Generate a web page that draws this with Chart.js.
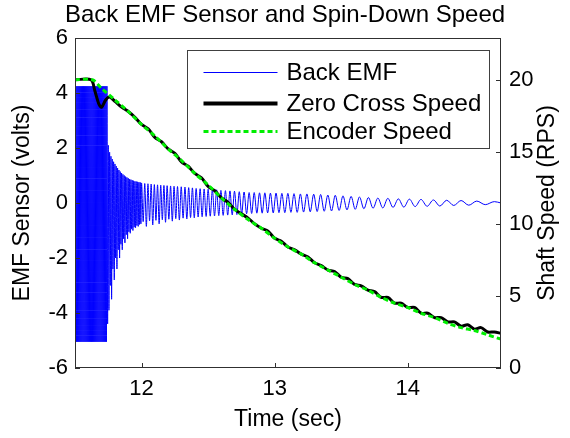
<!DOCTYPE html>
<html><head><meta charset="utf-8">
<script src="https://cdn.jsdelivr.net/npm/chart.js@4"></script>
<style>html,body{margin:0;padding:0;background:#fff;overflow:hidden}canvas{display:block}</style>
</head><body>
<canvas id="c" width="570" height="438"></canvas>
<script>
const titleText = 'Back EMF Sensor and Spin-Down Speed';
const xTitle = 'Time (sec)';
const yLeftTitle = 'EMF Sensor (volts)';
const yRightTitle = 'Shaft Speed (RPS)';
const seriesNames = ['Back EMF', 'Zero Cross Speed', 'Encoder Speed'];
const xTicks = [12, 13, 14];
const yLeftTicks = [-6, -4, -2, 0, 2, 4, 6];
const yRightTicks = [0, 5, 10, 15, 20];

// Back EMF sensor trace (volts)
const emfTime = [
 11.500,11.504,11.508,11.512,11.516,11.520,11.524,11.528,11.532,11.536,
 11.540,11.544,11.548,11.552,11.556,11.560,11.564,11.568,11.572,11.576,
 11.580,11.584,11.588,11.592,11.596,11.600,11.604,11.608,11.612,11.616,
 11.620,11.624,11.628,11.632,11.636,11.640,11.644,11.648,11.652,11.656,
 11.660,11.664,11.668,11.672,11.676,11.680,11.684,11.688,11.692,11.696,
 11.700,11.704,11.708,11.712,11.716,11.720,11.724,11.728,11.732,11.736,
 11.740,
 11.745,11.750,11.755,11.760,11.765,11.770,11.775,11.780,11.785,11.790,
 11.795,11.800,11.805,11.810,11.815,11.820,11.825,11.830,11.835,11.840,
 11.845,11.850,11.855,11.860,11.865,11.870,11.875,11.880,11.885,11.890,
 11.895,11.900,11.905,11.910,11.915,11.920,11.925,11.930,11.935,11.940,
 11.945,11.950,11.955,11.960,11.965,11.970,11.975,11.980,11.985,11.990,
 11.995,
 12.000,12.012,12.024,12.036,12.048,12.060,12.072,12.084,12.096,12.108,
 12.120,12.132,12.144,12.156,12.168,12.180,12.192,12.205,12.218,12.231,
 12.244,12.257,12.270,12.284,12.298,12.312,12.326,12.340,12.354,12.368,
 12.382,12.396,12.410,12.425,12.440,12.455,12.470,12.485,12.500,12.516,
 12.532,12.548,12.564,12.580,12.596,12.613,12.630,12.647,12.664,12.681,
 12.698,12.716,12.734,12.752,12.770,12.789,12.808,12.827,12.846,12.866,
 12.886,12.906,12.926,12.947,12.968,12.989,13.010,13.032,13.054,13.076,
 13.099,13.122,13.145,13.169,13.193,13.217,13.242,13.267,13.293,13.319,
 13.345,13.372,13.399,13.427,13.455,13.484,13.513,13.543,13.574,13.605,
 13.637,13.670,13.704,13.739,13.775,13.812,13.850,13.889,13.929,13.970,
 14.012,14.055,14.099,14.145,14.192,14.241,14.292,14.345,14.400,14.458,
 14.518,14.582,14.650,14.700
];
const emfVolts = [
 4.25,-5.05,4.25,-5.05,4.25,-5.05,4.25,-5.05,4.25,-5.05,
 4.25,-5.05,4.25,-5.05,4.25,-5.05,4.25,-5.05,4.25,-5.05,
 4.25,-5.05,4.25,-5.05,4.25,-5.05,4.25,-5.05,4.25,-5.05,
 4.25,-5.05,4.25,-5.05,4.25,-5.05,4.25,-5.05,4.25,-5.05,
 4.25,-5.05,4.25,-5.05,4.25,-5.05,4.25,-5.05,4.25,-5.05,
 4.25,-5.05,4.25,-5.05,4.25,-5.05,4.25,-5.05,4.25,-5.05,
 4.25,
 -4.4,2.1,-3.9,1.85,-3.0,1.7,-3.5,1.6,-2.4,1.5,
 -2.8,1.42,-2.0,1.34,-2.4,1.27,-1.7,1.2,-2.0,1.14,
 -1.5,1.09,-1.7,1.04,-1.3,1.0,-1.45,0.96,-1.15,0.93,
 -1.3,0.9,-1.05,0.87,-1.1,0.85,-0.95,0.83,-1.0,0.81,
 -0.88,0.79,-0.9,0.78,-0.82,0.77,-0.85,0.76,-0.78,0.75,
 -0.76,
 0.73,-0.68,0.71,-0.85,0.70,-0.65,0.69,-0.80,0.67,-0.63,
 0.66,-0.76,0.65,-0.61,0.64,-0.70,0.63,-0.59,0.62,-0.66,
 0.61,-0.57,0.60,-0.62,0.59,-0.55,0.58,-0.58,0.56,-0.53,
 0.55,-0.54,0.53,-0.51,0.52,-0.50,0.51,-0.49,0.50,-0.48,
 0.49,-0.47,0.48,-0.46,0.46,-0.45,0.45,-0.44,0.44,-0.43,
 0.43,-0.42,0.41,-0.40,0.40,-0.39,0.38,-0.38,0.38,-0.37,
 0.37,-0.37,0.37,-0.36,0.36,-0.36,0.36,-0.35,0.35,-0.35,
 0.35,-0.34,0.34,-0.34,0.33,-0.33,0.33,-0.32,0.32,-0.31,
 0.31,-0.30,0.29,-0.29,0.28,-0.27,0.26,-0.25,0.24,-0.23,
 0.22,-0.21,0.20,-0.19,0.18,-0.18,0.17,-0.16,0.15,-0.15,
 0.14,-0.13,0.13,-0.12,0.11,-0.11,0.10,-0.09,0.09,-0.08,
 0.07,-0.06,0.05,0.00
];

// Zero-cross derived speed (RPS)
const zcTime = [
 11.50,11.62,11.65,11.68,11.70,11.73,11.76,11.80,11.85,11.90,11.95,
 12.00,12.05,12.10,12.15,12.20,12.25,12.30,12.35,12.40,12.45,
 12.50,12.55,12.60,12.65,12.70,12.75,12.80,12.85,12.90,12.95,
 13.00,13.05,13.10,13.15,13.20,13.25,13.30,13.35,13.40,13.45,
 13.50,13.55,13.60,13.65,13.70,13.75,13.80,13.85,13.90,13.95,
 14.00,14.05,14.10,14.15,14.20,14.25,14.30,14.35,14.40,14.45,
 14.50,14.55,14.60,14.65,14.70
];
const zcSpeed = [
 20.0,20.0,19.2,18.3,18.1,18.6,18.8,18.5,18.1,17.8,17.4,
 16.9,16.6,16.0,15.7,15.2,14.9,14.3,14.0,13.5,13.2,
 12.6,12.3,11.8,11.5,11.0,10.7,10.4,10.0,9.7,9.5,
 9.0,8.8,8.4,8.2,7.9,7.7,7.3,7.1,6.8,6.7,
 6.3,6.2,5.8,5.7,5.4,5.3,4.9,4.9,4.5,4.5,
 4.2,4.2,3.8,3.8,3.5,3.5,3.2,3.2,2.9,3.0,
 2.7,2.8,2.5,2.5,2.4
];

// Encoder speed (RPS)
const encTime = [
 11.50,11.63,11.70,11.80,11.90,12.00,12.10,12.20,12.30,12.40,
 12.50,12.60,12.70,12.80,12.90,13.00,13.10,13.20,13.30,13.40,
 13.50,13.60,13.70,13.80,13.90,14.00,14.10,14.20,14.30,14.40,
 14.50,14.60,14.70
];
const encSpeed = [
 20.0,20.0,19.4,18.6,17.8,16.9,16.1,15.2,14.4,13.5,
 12.7,11.8,11.0,10.3,9.7,9.0,8.4,7.9,7.3,6.8,
 6.3,5.8,5.4,4.9,4.5,4.2,3.8,3.5,3.1,2.8,
 2.6,2.3,2.0
];

const FONT = "'Liberation Sans', Arial, Helvetica, sans-serif";
const BLUE = '#0000ff', BLACK = '#000000', GREEN = 'rgb(0,238,0)';
const AXIS = '#303030';

const pts = (t, v) => t.map((x, i) => ({x: x, y: v[i]}));

const overlay = {
  id: 'overlay',
  afterDraw(chart) {
    const ctx = chart.ctx, ca = chart.chartArea;
    const sx = chart.scales.x, sy = chart.scales.y, sy1 = chart.scales.y1;
    ctx.save();
    ctx.strokeStyle = AXIS; ctx.lineWidth = 1;
    ctx.strokeRect(Math.round(ca.left) + 0.5, Math.round(ca.top) + 0.5,
      Math.round(ca.right - ca.left) - 1, Math.round(ca.bottom - ca.top) - 1);
    const TL = 5;
    ctx.beginPath();
    xTicks.forEach(v => {
      const px = Math.round(sx.getPixelForValue(v)) + 0.5;
      ctx.moveTo(px, ca.bottom); ctx.lineTo(px, ca.bottom - TL);
    });
    yLeftTicks.forEach(v => {
      const py = Math.round(sy.getPixelForValue(v)) + 0.5;
      ctx.moveTo(ca.left, py); ctx.lineTo(ca.left + TL, py);
    });
    yRightTicks.forEach(v => {
      const py = Math.round(sy1.getPixelForValue(v)) + 0.5;
      ctx.moveTo(ca.right, py); ctx.lineTo(ca.right - TL, py);
    });
    ctx.stroke();
    ctx.fillStyle = '#000';
    ctx.font = '23px ' + FONT;
    ctx.textAlign = 'center'; ctx.textBaseline = 'middle';
    ctx.translate(548, (ca.top + ca.bottom) / 2);
    ctx.rotate(-Math.PI / 2);
    ctx.fillText(yRightTitle, 0, 0);
    ctx.restore();

    ctx.save();
    const bx = Math.round(ca.left + 112) + 0.5, by = Math.round(ca.top + 12) + 0.5;
    const bw = 302, bh = 98;
    ctx.fillStyle = '#fff';
    ctx.fillRect(bx, by, bw, bh);
    ctx.strokeStyle = '#404040'; ctx.lineWidth = 1;
    ctx.strokeRect(bx, by, bw, bh);
    const styles = [
      {c: BLUE, w: 1, d: []},
      {c: BLACK, w: 4, d: []},
      {c: GREEN, w: 3, d: [5, 3]}
    ];
    const rows = [22, 53, 81];
    ctx.font = '24px ' + FONT;
    ctx.textAlign = 'left'; ctx.textBaseline = 'middle';
    seriesNames.forEach((name, i) => {
      const y = by + rows[i];
      ctx.beginPath();
      ctx.strokeStyle = styles[i].c; ctx.lineWidth = styles[i].w;
      ctx.setLineDash(styles[i].d);
      ctx.moveTo(bx + 16, y); ctx.lineTo(bx + 90, y);
      ctx.stroke();
      ctx.setLineDash([]);
      ctx.fillStyle = '#000';
      ctx.fillText(name, bx + 99, y + 1);
    });
    ctx.restore();
  }
};

new Chart(document.getElementById('c'), {
  type: 'line',
  data: {
    datasets: [
      {label: seriesNames[2], data: pts(encTime, encSpeed), yAxisID: 'y1',
       borderColor: GREEN, borderWidth: 3, borderDash: [5, 3], pointRadius: 0,
       tension: 0.3, order: 0},
      {label: seriesNames[1], data: pts(zcTime, zcSpeed), yAxisID: 'y1',
       borderColor: BLACK, borderWidth: 3, pointRadius: 0, tension: 0.3, order: 1},
      {label: seriesNames[0], data: pts(emfTime, emfVolts), yAxisID: 'y',
       borderColor: BLUE, borderWidth: 1, pointRadius: 0,
       cubicInterpolationMode: 'monotone', order: 2}
    ]
  },
  options: {
    responsive: false,
    animation: false,
    devicePixelRatio: 1,
    layout: {padding: 0},
    plugins: {
      legend: {display: false},
      tooltip: {enabled: false},
      title: {display: true, text: titleText, color: '#000',
        font: {family: FONT, size: 24, weight: 'normal'},
        padding: {top: 1, bottom: 8.2}}
    },
    scales: {
      x: {
        type: 'linear', min: 11.5, max: 14.7,
        afterBuildTicks: s => { s.ticks = xTicks.map(v => ({value: v})); },
        afterFit: s => { s.height = 70; },
        grid: {display: false, drawTicks: false},
        border: {display: false},
        ticks: {color: '#000', font: {family: FONT, size: 22}, padding: 8, maxRotation: 0},
        title: {display: true, text: xTitle, color: '#000',
          font: {family: FONT, size: 23}, padding: {top: 0, bottom: 5}}
      },
      y: {
        position: 'left', min: -6, max: 6,
        afterBuildTicks: s => { s.ticks = yLeftTicks.map(v => ({value: v})); },
        afterFit: s => { s.width = 75; },
        grid: {display: false, drawTicks: false},
        border: {display: false},
        ticks: {color: '#000', font: {family: FONT, size: 22}, padding: 7},
        title: {display: true, text: yLeftTitle, color: '#000',
          font: {family: FONT, size: 23}, padding: {top: 9, bottom: 0}}
      },
      y1: {
        position: 'right', min: 0, max: 22.9,
        afterBuildTicks: s => { s.ticks = yRightTicks.map(v => ({value: v})); },
        afterFit: s => { s.width = 69; },
        grid: {display: false, drawTicks: false},
        border: {display: false},
        ticks: {color: '#000', font: {family: FONT, size: 22}, padding: 8}
      }
    }
  },
  plugins: [overlay]
});
</script>
</body></html>
